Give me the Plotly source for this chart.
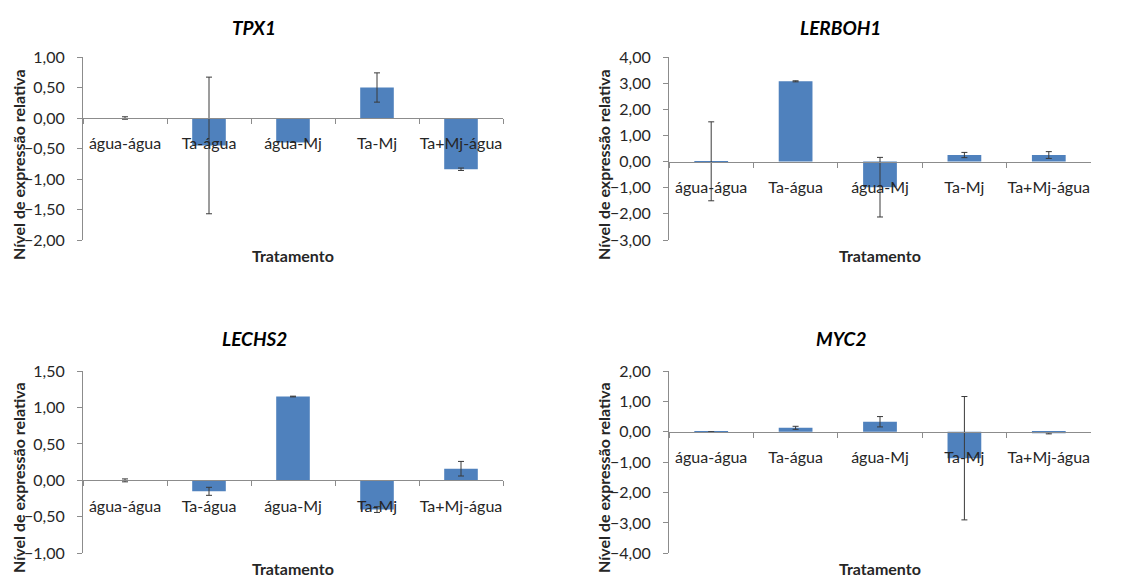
import plotly.graph_objects as go

categories = ["água-água", "Ta-água", "água-Mj", "Ta-Mj", "Ta+Mj-água"]

tpx1 = [0.00, -0.45, -0.40, 0.50, -0.84]
tpx1_err = [0.02, 1.12, 0.0, 0.24, 0.02]

lerboh1 = [0.01, 3.07, -0.98, 0.25, 0.25]
lerboh1_err = [1.51, 0.02, 1.14, 0.10, 0.13]

lechs2 = [0.00, -0.15, 1.15, -0.40, 0.16]
lechs2_err = [0.02, 0.055, 0.005, 0.04, 0.10]

myc2 = [-0.01, 0.13, 0.33, -0.87, -0.05]
myc2_err = [0.01, 0.05, 0.17, 2.03, 0.02]

titles = ["TPX1", "LERBOH1", "LECHS2", "MYC2"]
values = [tpx1, lerboh1, lechs2, myc2]
errors = [tpx1_err, lerboh1_err, lechs2_err, myc2_err]
yranges = [(-2, 1), (-3, 4), (-1, 1.5), (-4, 2)]
ydticks = [0.5, 1, 0.5, 1]

W, H = 1129, 580
FONT = "Lato"
BAR = "#4F81BD"
AX = "#8C8C8C"
TXT = "#262626"

# plot areas in pixels (left, right, top, bottom)
areas = [(83, 503, 57, 240), (669, 1091, 57, 240),
         (83, 503, 371, 553.3), (669, 1091, 371, 553.3)]
title_pos = [(254, 28), (840, 28), (254, 338), (841, 338)]
xtitle_pos = [(293, 255), (880, 255), (293, 568), (880, 568)]
ytitle_pos = [(18, 165), (603, 165), (18, 478), (603, 478)]

fig = go.Figure()
layout = dict(width=W, height=H, margin=dict(l=0, r=0, t=0, b=0, pad=0),
              paper_bgcolor="white", plot_bgcolor="white",
              showlegend=False, separators=",.",
              font=dict(family=FONT, color=TXT, size=16),
              annotations=[])

for i in range(4):
    n = "" if i == 0 else str(i + 1)
    xa, ya = "x" + n, "y" + n
    fig.add_trace(go.Bar(
        x=categories, y=values[i], xaxis=xa, yaxis=ya,
        width=0.4, marker=dict(color=BAR, line=dict(width=0)),
        error_y=dict(type="data", array=errors[i], visible=True,
                     color="#3A3A3A", thickness=1, width=3)))
    l, r, t, b = areas[i]
    xd = [l / W, r / W]
    yd = [1 - b / H, 1 - t / H]
    rmin, rmax = yranges[i]
    pos = yd[0] + (0 - rmin) / (rmax - rmin) * (yd[1] - yd[0])
    layout["xaxis" + n] = dict(
        domain=xd, anchor="free", position=pos, type="category",
        showline=True, linecolor=AX, linewidth=1, automargin=False,
        ticks="outside", tickson="boundaries", ticklen=5, tickcolor=AX,
        showgrid=False, zeroline=False, ticklabelstandoff=11, tickangle=0,
        tickfont=dict(family=FONT, size=16, color=TXT),
        range=[-0.5, 4.5], fixedrange=True)
    layout["yaxis" + n] = dict(
        domain=yd, anchor=xa, range=[rmin, rmax], dtick=ydticks[i],
        tick0=0, tickformat=".2f", showline=True, linecolor=AX, linewidth=1,
        ticks="outside", ticklen=5, tickcolor=AX, showgrid=False,
        zeroline=False, ticklabelstandoff=9, automargin=False,
        tickfont=dict(family=FONT, size=16, color=TXT), fixedrange=True)
    tx, ty = title_pos[i]
    layout["annotations"].append(dict(
        text="<b><i>" + titles[i] + "</i></b>", x=tx / W, y=1 - ty / H,
        xref="paper", yref="paper", showarrow=False,
        xanchor="center", yanchor="middle",
        font=dict(family=FONT, size=19, color="black")))
    xx, xy = xtitle_pos[i]
    layout["annotations"].append(dict(
        text="<b>Tratamento</b>", x=xx / W, y=1 - xy / H,
        xref="paper", yref="paper", showarrow=False,
        xanchor="center", yanchor="middle",
        font=dict(family=FONT, size=16, color=TXT)))
    yx, yy = ytitle_pos[i]
    layout["annotations"].append(dict(
        text="<b>Nível de expressão relativa</b>", x=yx / W, y=1 - yy / H,
        xref="paper", yref="paper", showarrow=False, textangle=-90,
        xanchor="center", yanchor="middle",
        font=dict(family=FONT, size=16, color=TXT)))

fig.update_layout(**layout)
fig.write_html("out.html")
